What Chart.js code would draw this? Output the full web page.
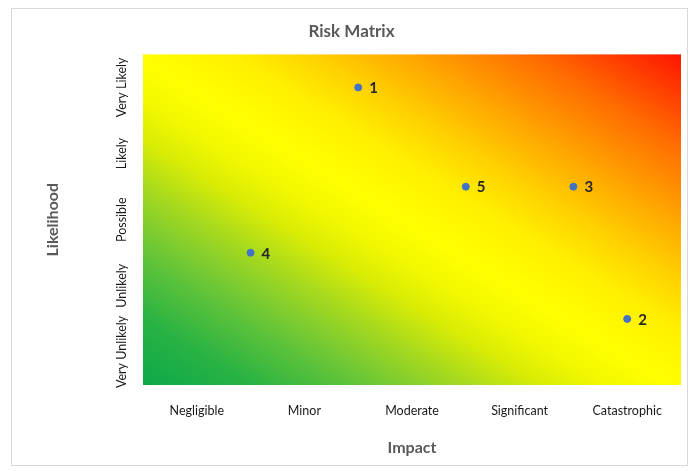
<!DOCTYPE html>
<html>
<head>
<meta charset="utf-8">
<title>Risk Matrix</title>
<script src="https://cdn.jsdelivr.net/npm/chart.js@4.4.1/dist/chart.umd.min.js"></script>
<style>
  html, body { margin: 0; padding: 0; background: #ffffff; }
  #wrap { width: 690px; height: 471px; }
</style>
</head>
<body>
<div id="wrap"><canvas id="riskChart" width="690" height="471"></canvas></div>
<script>
// Axis categories
const impactLevels = ['Negligible', 'Minor', 'Moderate', 'Significant', 'Catastrophic'];
const likelihoodLevels = ['Very Unlikely', 'Unlikely', 'Possible', 'Likely', 'Very Likely'];

// Risks: id, impact position, likelihood position (0..5 scale, band centres at .5)
const riskIds = ['1', '2', '3', '4', '5'];
const riskImpact = [2, 4.5, 4, 1, 3];
const riskLikelihood = [4.5, 1, 3, 2, 3];

// Heat colours from low risk (bottom-left) to high risk (top-right)
const heatStops = [
  [0.00, '#0ea84a'],
  [0.10, '#28b244'],
  [0.19, '#5cc23a'],
  [0.24, '#7ecc30'],
  [0.30, '#a6d91e'],
  [0.37, '#d8ec06'],
  [0.43, '#f2f800'],
  [0.49, '#ffff00'],
  [0.58, '#fff000'],
  [0.66, '#ffd000'],
  [0.75, '#ffa400'],
  [0.86, '#ff6c00'],
  [1.00, '#ff1400']
];

const FONT = 'Lato, "Open Sans", sans-serif';
const GREY = '#595959';

const framePlugin = {
  id: 'frame',
  beforeDraw(chart) {
    const ctx = chart.ctx;
    ctx.save();
    ctx.fillStyle = '#ffffff';
    ctx.fillRect(0, 0, chart.width, chart.height);
    ctx.strokeStyle = '#d9d9d9';
    ctx.lineWidth = 1;
    ctx.strokeRect(11.5, 8.5, 676, 457);
    ctx.restore();
  }
};

// Diagonal heat map filling the plot area
const heatPlugin = {
  id: 'heat',
  beforeDatasetsDraw(chart) {
    const {ctx, chartArea: a} = chart;
    ctx.save();
    ctx.translate(a.left, a.top);
    ctx.scale(a.right - a.left, a.bottom - a.top);
    const g = ctx.createLinearGradient(0, 1, 1, 0);
    heatStops.forEach(([p, c]) => g.addColorStop(p, c));
    ctx.fillStyle = g;
    ctx.fillRect(0, 0, 1, 1);
    ctx.restore();
  }
};

// Vertical likelihood labels along the y axis
const yLabelPlugin = {
  id: 'yLabels',
  afterDraw(chart) {
    const ctx = chart.ctx;
    const y = chart.scales.y;
    ctx.save();
    ctx.font = '12.5px ' + FONT;
    ctx.fillStyle = '#1a1a1a';
    ctx.textAlign = 'center';
    ctx.textBaseline = 'middle';
    y.ticks.forEach((t, i) => {
      const py = y.getPixelForValue(t.value);
      ctx.save();
      ctx.translate(y.right - 21, py);
      ctx.rotate(-Math.PI / 2);
      ctx.fillText(likelihoodLevels[i], 0, 0);
      ctx.restore();
    });
    ctx.restore();
  }
};

// Risk id next to each marker
const idLabelPlugin = {
  id: 'idLabels',
  afterDatasetsDraw(chart) {
    const ctx = chart.ctx;
    const meta = chart.getDatasetMeta(0);
    ctx.save();
    ctx.font = 'bold 15px ' + FONT;
    ctx.fillStyle = '#262626';
    ctx.textAlign = 'left';
    ctx.textBaseline = 'middle';
    meta.data.forEach((pt, i) => {
      ctx.fillText(riskIds[i], pt.x + 11, pt.y + 1);
    });
    ctx.restore();
  }
};

const points = riskIds.map((id, i) => ({x: riskImpact[i], y: riskLikelihood[i]}));

new Chart(document.getElementById('riskChart'), {
  type: 'scatter',
  data: {
    datasets: [{
      data: points,
      backgroundColor: '#4472c4',
      borderColor: '#4472c4',
      pointRadius: 3.5,
      pointHoverRadius: 3.5
    }]
  },
  options: {
    responsive: false,
    animation: false,
    devicePixelRatio: 1,
    layout: { padding: { left: 22, right: 9, top: 18, bottom: 14 } },
    plugins: {
      legend: { display: false },
      tooltip: { enabled: false },
      title: {
        display: true,
        text: 'Risk Matrix',
        color: GREY,
        font: { family: FONT, size: 17, weight: 'bold' },
        padding: { top: 3, bottom: 13 }
      }
    },
    scales: {
      x: {
        type: 'linear',
        min: 0,
        max: 5,
        afterBuildTicks(scale) {
          scale.ticks = impactLevels.map((_, i) => ({ value: i + 0.5 }));
        },
        afterFit(scale) { scale.height = 72; },
        ticks: {
          color: '#1a1a1a',
          font: { family: FONT, size: 12.5 },
          padding: 18,
          maxRotation: 0,
          minRotation: 0,
          callback: (v, i) => impactLevels[i]
        },
        grid: { display: false, drawTicks: false, tickLength: 0 },
        border: { display: false },
        title: {
          display: true,
          text: 'Impact',
          color: GREY,
          font: { family: FONT, size: 16, weight: 'bold' },
          padding: { top: 0, bottom: 0 }
        }
      },
      y: {
        type: 'linear',
        min: 0,
        max: 5,
        afterBuildTicks(scale) {
          scale.ticks = likelihoodLevels.map((_, i) => ({ value: i + 0.5 }));
        },
        afterFit(scale) { scale.width = 121; },
        ticks: { display: false },
        grid: { display: false, drawTicks: false, tickLength: 0 },
        border: { display: false },
        title: {
          display: true,
          text: 'Likelihood',
          color: GREY,
          font: { family: FONT, size: 16, weight: 'bold' },
          padding: { top: 21, bottom: 0 }
        }
      }
    }
  },
  plugins: [framePlugin, heatPlugin, yLabelPlugin, idLabelPlugin]
});
</script>
</body>
</html>
